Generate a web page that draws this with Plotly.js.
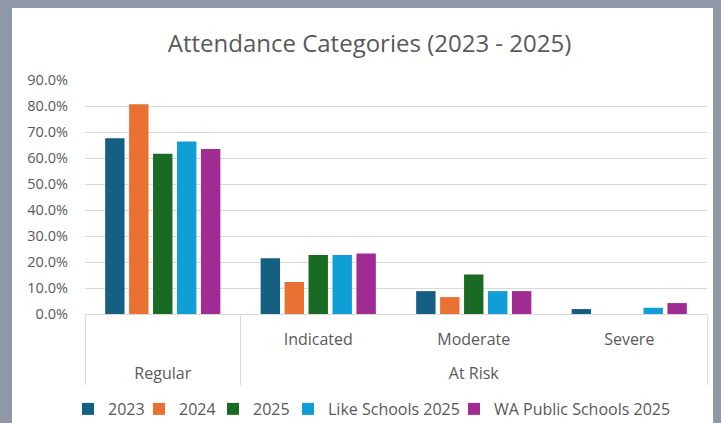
<!DOCTYPE html>
<html>
<head>
<meta charset="utf-8">
<script src="https://cdn.plot.ly/plotly-3.0.1.min.js"></script>
<style>
html,body{margin:0;padding:0;width:721px;height:423px;overflow:hidden;background:#8f98a6;}
#chart{position:absolute;left:12px;top:8px;width:701px;height:440px;background:#fff;}
</style>
</head>
<body>
<div id="chart"></div>
<script>
const parentLabels = ["Regular", "At Risk", "At Risk", "At Risk"];
const childLabels = ["", "Indicated", "Moderate", "Severe"];
const seriesNames = ["2023", "2024", "2025", "Like Schools 2025", "WA Public Schools 2025"];
const s2023 = [0.676, 0.214, 0.088, 0.019];
const s2024 = [0.807, 0.123, 0.065, 0];
const s2025 = [0.616, 0.227, 0.152, 0];
const sLike = [0.663, 0.227, 0.088, 0.024];
const sWA = [0.635, 0.233, 0.088, 0.042];
const colors = ["#156082", "#E97132", "#196B24", "#0F9ED5", "#A02B93"];
const yTicks = [0, 0.1, 0.2, 0.3, 0.4, 0.5, 0.6, 0.7, 0.8, 0.9];

// parent row sits one blank line lower, as in the reference's two-row axis
const parentRow = parentLabels.map(p => '<br>' + p);

const allSeries = [s2023, s2024, s2025, sLike, sWA];
const legendIds = ['legend', 'legend2', 'legend3', 'legend4', 'legend5'];
const traces = allSeries.map((vals, i) => ({
  type: 'bar',
  name: seriesNames[i],
  x: [parentRow, childLabels],
  y: vals,
  marker: {color: colors[i]},
  legend: legendIds[i],
  hoverinfo: 'none'
}));

const font = "Open Sans, Lato, sans-serif";
const W = 701, H = 440;
const legendLeftPx = [87, 158, 232, 307, 473];
const layout = {
  width: W, height: H,
  margin: {l: 73, r: 6, t: 72, b: 134, autoexpand: false},
  paper_bgcolor: '#ffffff',
  plot_bgcolor: '#ffffff',
  barmode: 'group',
  bargap: 0.23,
  bargroupgap: 0.19,
  font: {family: font, color: '#595959', size: 15},
  title: {text: 'Attendance Categories (2023 - 2025)', font: {family: font, size: 24, color: '#595959'}, xref: 'container', x: 0.51, xanchor: 'center', y: 0.92, yanchor: 'middle'},
  xaxis: {
    type: 'multicategory',
    showgrid: false,
    showline: true, linecolor: '#d9d9d9', linewidth: 1,
    showdividers: true, dividercolor: '#d9d9d9', dividerwidth: 1,
    tickfont: {family: font, size: 16, color: '#595959'},
    ticklabelstandoff: 11,
    ticks: '',
    automargin: false
  },
  yaxis: {
    range: [0, 0.9],
    tickvals: yTicks,
    tickformat: '.1%',
    showgrid: true, gridcolor: '#d9d9d9', gridwidth: 1,
    zeroline: false,
    showline: false,
    ticks: '',
    ticklabelstandoff: 16,
    automargin: false,
    tickfont: {family: font, size: 14.5, color: '#595959'}
  },
  showlegend: true
};
legendIds.forEach((id, i) => {
  layout[id] = {
    orientation: 'h',
    xref: 'container', yref: 'container',
    x: (legendLeftPx[i] - 12 - 19) / W, xanchor: 'left',
    y: (H - (409 - 8)) / H, yanchor: 'middle',
    font: {family: font, size: 16, color: '#595959'},
    bgcolor: 'rgba(0,0,0,0)'
  };
});

Plotly.newPlot('chart', traces, layout, {displayModeBar: false, staticPlot: true});
</script>
</body>
</html>
